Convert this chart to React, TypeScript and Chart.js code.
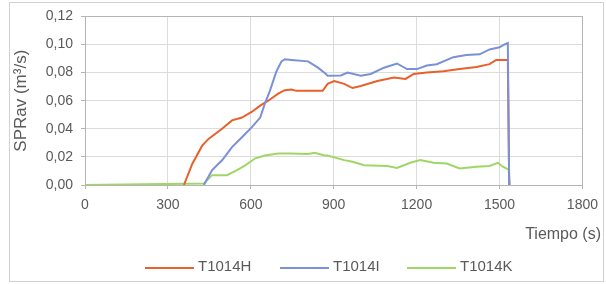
import { useEffect, useRef } from 'react';
import { Chart, registerables } from 'chart.js';

Chart.register(...registerables);

// ---- Data ----
const seriesLabels = ['T1014H', 'T1014I', 'T1014K'];
const seriesColors = ['#e8602c', '#7a90d8', '#9fd665'];

const xTicks = [0, 300, 600, 900, 1200, 1500, 1800];
const yTicks = [0, 0.02, 0.04, 0.06, 0.08, 0.1, 0.12];

const orangeT = [358, 388, 424, 448, 496, 532, 568, 603, 634, 663, 699, 723, 747, 765, 800, 860, 878, 902, 938, 968, 998, 1058, 1118, 1160, 1189, 1237, 1297, 1356, 1416, 1464, 1488, 1530, 1535];
const orangeV = [0, 0.015, 0.028, 0.033, 0.04, 0.046, 0.048, 0.052, 0.0565, 0.06, 0.065, 0.0675, 0.068, 0.067, 0.067, 0.067, 0.072, 0.074, 0.072, 0.069, 0.0705, 0.074, 0.0765, 0.0755, 0.079, 0.08, 0.081, 0.0825, 0.084, 0.086, 0.089, 0.089, 0];

const blueT = [430, 460, 496, 532, 568, 603, 634, 651, 669, 693, 711, 723, 747, 807, 843, 872, 878, 926, 950, 998, 1034, 1082, 1129, 1165, 1201, 1237, 1273, 1333, 1380, 1428, 1464, 1500, 1518, 1530, 1535];
const blueV = [0, 0.0106, 0.0176, 0.027, 0.034, 0.041, 0.048, 0.058, 0.067, 0.081, 0.088, 0.0895, 0.089, 0.088, 0.0835, 0.079, 0.0777, 0.078, 0.08, 0.0777, 0.079, 0.0835, 0.0865, 0.0825, 0.0825, 0.085, 0.086, 0.091, 0.0925, 0.093, 0.0965, 0.098, 0.1, 0.101, 0];

const greenT = [0, 430, 460, 514, 550, 580, 616, 651, 699, 747, 807, 831, 867, 878, 938, 968, 1010, 1094, 1129, 1177, 1213, 1261, 1309, 1356, 1416, 1464, 1494, 1512, 1533, 1537];
const greenV = [0, 0.001, 0.007, 0.007, 0.0106, 0.014, 0.019, 0.021, 0.0224, 0.0224, 0.022, 0.023, 0.021, 0.021, 0.0177, 0.0165, 0.014, 0.0135, 0.0122, 0.0158, 0.0177, 0.0158, 0.0153, 0.0118, 0.013, 0.0135, 0.0158, 0.013, 0.011, 0];

const xTitle = 'Tiempo (s)';
const yTitle = 'SPRav (m³/s)';

const FONT = 'Liberation Sans, Arial, sans-serif';
const TEXT = '#5a5a5a';

const toPts = (t: number[], v: number[]) => t.map((x, i) => ({ x, y: v[i] }));

export default function App() {
  const ref = useRef<HTMLCanvasElement>(null);

  useEffect(() => {
    const extras = {
      id: 'extras',
      beforeDatasetsDraw(chart: any) {
        const { ctx, chartArea: a } = chart;
        ctx.save();
        ctx.strokeStyle = '#b5b5b5';
        ctx.lineWidth = 1;
        ctx.strokeRect(Math.round(a.left) + 0.5, Math.round(a.top) + 0.5, Math.round(a.right - a.left), Math.round(a.bottom - a.top));
        ctx.restore();
      },
      afterDraw(chart: any) {
        const { ctx } = chart;
        ctx.save();
        ctx.fillStyle = TEXT;
        ctx.font = `16px ${FONT}`;
        ctx.textAlign = 'right';
        ctx.textBaseline = 'middle';
        ctx.fillText(xTitle, 601, 235);
        const starts = [145, 280, 407];
        ctx.font = `15px ${FONT}`;
        ctx.textAlign = 'left';
        chart.data.datasets.forEach((ds: any, i: number) => {
          const x0 = starts[i];
          ctx.strokeStyle = ds.borderColor;
          ctx.lineWidth = 2;
          ctx.beginPath();
          ctx.moveTo(x0, 268);
          ctx.lineTo(x0 + 49, 268);
          ctx.stroke();
          ctx.fillStyle = TEXT;
          ctx.fillText(ds.label, x0 + 53, 267);
        });
        ctx.restore();
      },
    };

    const chart = new Chart(ref.current!, {
      type: 'line',
      data: {
        datasets: [
          { label: seriesLabels[0], data: toPts(orangeT, orangeV), borderColor: seriesColors[0], backgroundColor: seriesColors[0], order: 1 },
          { label: seriesLabels[1], data: toPts(blueT, blueV), borderColor: seriesColors[1], backgroundColor: seriesColors[1], order: 0 },
          { label: seriesLabels[2], data: toPts(greenT, greenV), borderColor: seriesColors[2], backgroundColor: seriesColors[2], order: 2 },
        ],
      },
      options: {
        animation: false,
        responsive: false,
        layout: { padding: { top: 15, right: 19, left: 0, bottom: 0 } },
        plugins: { legend: { display: false }, tooltip: { enabled: false } },
        elements: { point: { radius: 0 }, line: { borderWidth: 2, tension: 0 } },
        scales: {
          x: {
            type: 'linear',
            min: xTicks[0],
            max: xTicks[xTicks.length - 1],
            afterBuildTicks: (s: any) => { s.ticks = xTicks.map((v) => ({ value: v })); },
            ticks: {
              font: { family: FONT, size: 14 },
              color: TEXT,
              padding: 8,
              maxRotation: 0,
              autoSkip: false,
              callback: (v: any) => String(v),
            },
            grid: { color: '#dcdcdc', tickLength: 4, tickColor: '#b5b5b5' },
            border: { color: '#b5b5b5' },
            afterFit: (s: any) => { s.height = 99; },
          },
          y: {
            type: 'linear',
            min: yTicks[0],
            max: yTicks[yTicks.length - 1],
            afterBuildTicks: (s: any) => { s.ticks = yTicks.map((v) => ({ value: v })); },
            ticks: {
              font: { family: FONT, size: 14 },
              color: TEXT,
              padding: 8,
              callback: (v: any) => Number(v).toFixed(2).replace('.', ','),
            },
            grid: { color: '#dcdcdc', tickLength: 4, tickColor: '#b5b5b5' },
            border: { color: '#b5b5b5' },
            title: { display: true, text: yTitle, color: TEXT, font: { family: FONT, size: 17 }, padding: { top: 11, bottom: 0 } },
            afterFit: (s: any) => { s.width = 85; },
          },
        },
      },
      plugins: [extras],
    } as any);
    return () => chart.destroy();
  }, []);

  return (
    <div style={{ position: 'fixed', left: 0, top: 0, width: 606, height: 284, background: '#fff' }}>
      <canvas ref={ref} width={606} height={284} style={{ position: 'absolute', left: 0, top: 0, width: 606, height: 284 }} />
      <div style={{ position: 'absolute', left: 9, top: 2, width: 593, height: 278, border: '1px solid #d2d2d2', pointerEvents: 'none' }} />
    </div>
  );
}
